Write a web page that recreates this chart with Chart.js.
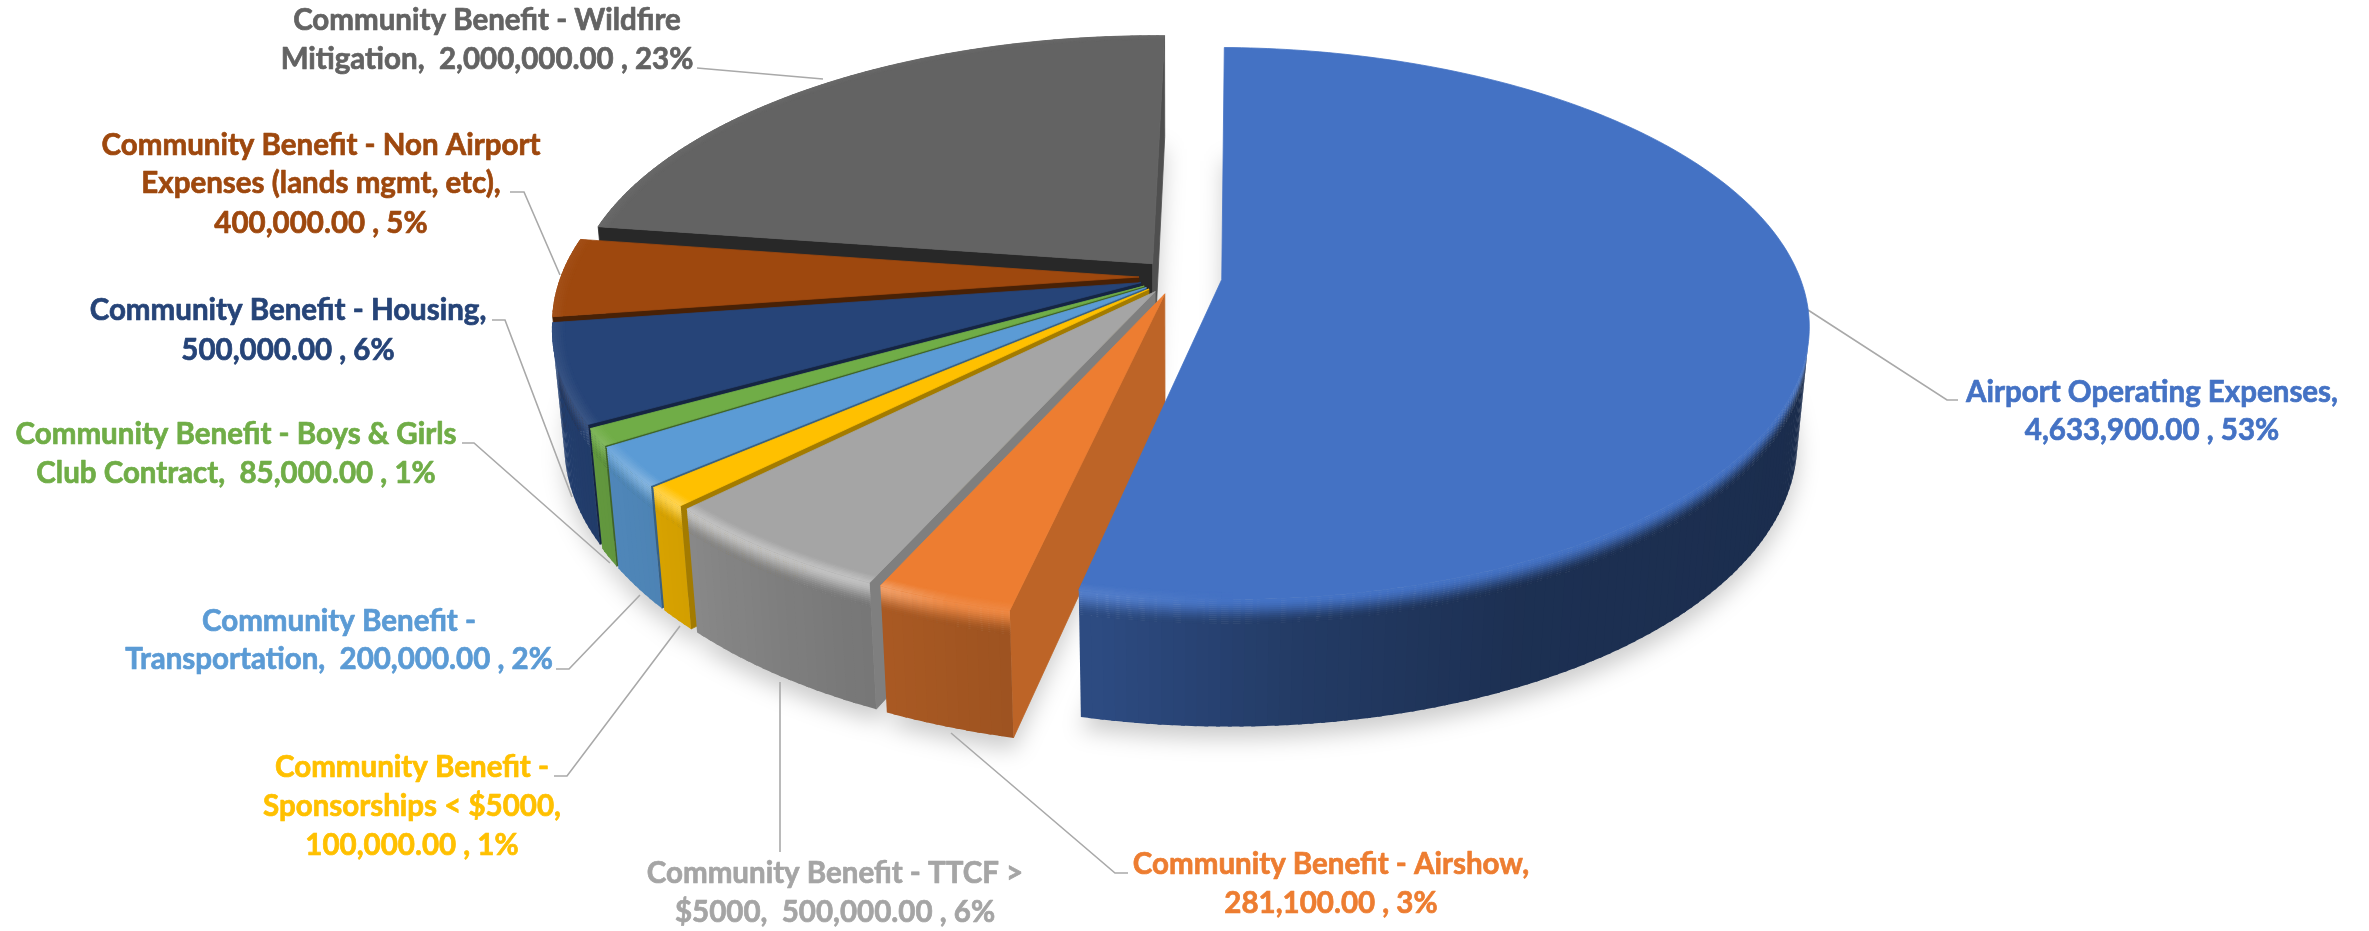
<!DOCTYPE html>
<html>
<head>
<meta charset="utf-8">
<title>Airport budget</title>
<style>
    html, body { margin: 0; padding: 0; background: #ffffff; }
    canvas { display: block; }
</style>
<script src="https://cdn.jsdelivr.net/npm/chart.js@4"></script>
</head>
<body>
<canvas id="budgetPie" width="2369" height="931"></canvas>
<script>
const categories = [
    "Airport Operating Expenses",
    "Community Benefit - Airshow",
    "Community Benefit - TTCF > $5000",
    "Community Benefit - Sponsorships < $5000",
    "Community Benefit - Transportation",
    "Community Benefit - Boys & Girls Club Contract",
    "Community Benefit - Housing",
    "Community Benefit - Non Airport Expenses (lands mgmt, etc)",
    "Community Benefit - Wildfire Mitigation"
];
const amounts = [4633900, 281100, 500000, 100000, 200000, 85000, 500000, 400000, 2000000];
const sliceColors = ["#4472C4", "#ED7D31", "#A5A5A5", "#FFC000", "#5B9BD5", "#70AD47", "#264478", "#9E480E", "#636363"];
const labelLines = [
    ["Airport Operating Expenses,", "4,633,900.00 , 53%"],
    ["Community Benefit - Airshow,", "281,100.00 , 3%"],
    ["Community Benefit - TTCF >", "$5000,  500,000.00 , 6%"],
    ["Community Benefit -", "Sponsorships < $5000,", "100,000.00 , 1%"],
    ["Community Benefit -", "Transportation,  200,000.00 , 2%"],
    ["Community Benefit - Boys & Girls", "Club Contract,  85,000.00 , 1%"],
    ["Community Benefit - Housing,", "500,000.00 , 6%"],
    ["Community Benefit - Non Airport", "Expenses (lands mgmt, etc),", "400,000.00 , 5%"],
    ["Community Benefit - Wildfire", "Mitigation,  2,000,000.00 , 23%"]
];

// ArcElement moves a slice by a quarter of its offset, so 180 is 45px
const sliceOffsets = [180, 152, 152, 152, 152, 152, 152, 152, 152];

// where each label sits: centre x, then the centre y of every line
const labelPlaces = [
    { x: 2152, y: [392, 430] },
    { x: 1331, y: [864, 903] },
    { x: 835, y: [873, 912] },
    { x: 412, y: [767, 806, 845] },
    { x: 339, y: [621, 659] },
    { x: 236, y: [434, 473] },
    { x: 288, y: [310, 350] },
    { x: 321, y: [145, 183, 223] },
    { x: 487, y: [20, 59] }
];
const leaderLines = [
    [[1808, 310], [1947, 400], [1958, 400]],
    [[951, 733], [1115, 873], [1128, 873]],
    [[780, 682], [780, 852]],
    [[680, 626], [567, 776], [554, 776]],
    [[640, 595], [569, 669], [556, 669]],
    [[462, 443], [474, 443], [610, 563]],
    [[492, 320], [505, 320], [572, 497]],
    [[510, 192], [524, 192], [560, 275]],
    [[697, 68], [823, 79]]
];

// camera for the tilted pie
const CAMERA_DIST = 3220;
const SIN_TILT = 0.464;
const COS_TILT = 0.886;
const PIE_DEPTH = 130;
const BEVEL = 24;
const STEP_OVERLAP = 0.006;

// brightness of the outer wall by angle, of the cut walls by the way they face,
// and how much the rim catches the light
const outerWallShade = [[0, 0.38], [65, 0.42], [85, 0.52], [100, 0.65], [115, 0.72], [140, 0.85], [180, 0.95]];
const cutWallShade = [[0, 0.8], [12, 0.8], [24, 0.77], [45, 0.64], [61, 0.55], [83, 0.45], [98, 0.4]];
const rimGlow = [[90, 0], [100, 0.07], [108, 0.1], [116, 0.32], [135, 0.32], [150, 0.1], [180, 0.04]];

function lookup(table, value) {
    if (value <= table[0][0]) return table[0][1];
    for (let i = 1; i < table.length; i++) {
        if (value <= table[i][0]) {
            const [x0, y0] = table[i - 1];
            const [x1, y1] = table[i];
            return y0 + ((value - x0) / (x1 - x0)) * (y1 - y0);
        }
    }
    return table[table.length - 1][1];
}

function toRgb(hex) {
    return [1, 3, 5].map((i) => parseInt(hex.slice(i, i + 2), 16));
}

function mix(a, b, t) {
    return a.map((v, i) => v + (b[i] - v) * t);
}

function scale(rgb, f) {
    return rgb.map((v) => v * f);
}

function css(rgb) {
    return `rgb(${rgb.map((v) => Math.round(v)).join(",")})`;
}

function rimColor(base, deg) {
    return mix(base, [255, 255, 255], lookup(rimGlow, deg));
}

// arc geometry comes from the controller, this only puts it in perspective
function projector(arc) {
    const { x, y, startAngle, endAngle, outerRadius } = arc.getProps(["x", "y", "startAngle", "endAngle", "outerRadius"]);
    const mid = (startAngle + endAngle) / 2;
    const shift = (arc.options.offset || 0) / 4;
    const ox = Math.cos(mid) * shift;
    const oy = Math.sin(mid) * shift;
    const at = (angle, r, z) => {
        const px = ox + r * Math.cos(angle);
        const back = -(oy + r * Math.sin(angle));
        const s = CAMERA_DIST / (CAMERA_DIST + back * COS_TILT - z * SIN_TILT);
        const up = back * SIN_TILT + z * COS_TILT;
        return [x + px * s, y - up * s];
    };
    const steps = Math.max(2, Math.ceil(((endAngle - startAngle) * 180) / Math.PI));
    const angles = [];
    for (let i = 0; i <= steps; i++) {
        angles.push(startAngle + ((endAngle - startAngle) * i) / steps);
    }
    return { at, angles, startAngle, endAngle, outerRadius };
}

function fillPoly(ctx, points, color, seam) {
    ctx.beginPath();
    points.forEach((p, i) => (i ? ctx.lineTo(p[0], p[1]) : ctx.moveTo(p[0], p[1])));
    ctx.closePath();
    ctx.fillStyle = color;
    ctx.fill();
    if (seam) {
        ctx.strokeStyle = color;
        ctx.lineWidth = 0.8;
        ctx.stroke();
    }
}

function polyArea(points) {
    let sum = 0;
    points.forEach((p, i) => {
        const q = points[(i + 1) % points.length];
        sum += p[0] * q[1] - q[0] * p[1];
    });
    return sum;
}

function drawCutWall(ctx, pie, base, angle, isStart) {
    const { at, outerRadius } = pie;
    const quad = [at(angle, 0, 0), at(angle, outerRadius, 0), at(angle, outerRadius, -PIE_DEPTH), at(angle, 0, -PIE_DEPTH)];
    const area = polyArea(quad);
    // the back wall is nearly edge-on, keep it as a thin strip
    const visible = isStart ? area < 0 : area > -4000;
    if (!visible) return;
    let facing = (angle * 180) / Math.PI + (isStart ? -90 : 90);
    facing = ((facing + 180) % 360 + 360) % 360 - 180;
    fillPoly(ctx, quad, css(scale(base, lookup(cutWallShade, facing))), true);
}

// one ring strip of the wall between two heights, overlapped so no gaps show
function wallStrip(ctx, pie, base, zTop, zBottom, colorAt) {
    const { at, angles, outerRadius } = pie;
    for (let i = 0; i < angles.length - 1; i++) {
        const a0 = angles[i];
        const a1 = Math.min(angles[i + 1] + STEP_OVERLAP, angles[angles.length - 1]);
        const column = [at(a0, outerRadius, 0), at(a1, outerRadius, 0), at(a1, outerRadius, -PIE_DEPTH), at(a0, outerRadius, -PIE_DEPTH)];
        if (polyArea(column) >= 0) continue;
        const deg = (((angles[i] + angles[i + 1]) / 2) * 180) / Math.PI;
        fillPoly(ctx, [at(a0, outerRadius, zTop), at(a1, outerRadius, zTop), at(a1, outerRadius, zBottom), at(a0, outerRadius, zBottom)], colorAt(deg), false);
    }
}

function drawOuterWall(ctx, pie, base) {
    const wallRgb = (deg) => scale(base, lookup(outerWallShade, deg));
    wallStrip(ctx, pie, base, -BEVEL, -PIE_DEPTH, (deg) => css(wallRgb(deg)));
    // shallowest strip goes on last so every edge stacks the same way
    for (let z = BEVEL - 2; z >= 0; z -= 2) {
        const t = (z + 1) / BEVEL;
        const blend = t * t * (3 - 2 * t);
        wallStrip(ctx, pie, base, -z, -z - 2.5, (deg) => css(mix(rimColor(base, deg), wallRgb(deg), blend)));
    }
}

function drawTop(ctx, pie, base) {
    const { at, angles, outerRadius } = pie;
    const points = [at(0, 0, 0)].concat(angles.map((a) => at(a, outerRadius, 0)));
    fillPoly(ctx, points, css(base), true);
    // the bevel starts a little inside the edge
    for (let d = 12; d > 0; d -= 2) {
        for (let i = 0; i < angles.length - 1; i++) {
            const a0 = angles[i];
            const a1 = Math.min(angles[i + 1] + STEP_OVERLAP, angles[angles.length - 1]);
            const deg = (((angles[i] + angles[i + 1]) / 2) * 180) / Math.PI;
            if (lookup(rimGlow, deg) === 0) continue;
            fillPoly(ctx, [
                at(a0, outerRadius - d, 0),
                at(a1, outerRadius - d, 0),
                at(a1, outerRadius - d + 2.5, 0),
                at(a0, outerRadius - d + 2.5, 0)
            ], css(mix(rimColor(base, deg), base, (d - 1) / 12)), false);
        }
    }
}

function drawShadows(ctx, pies) {
    const layer = document.createElement("canvas");
    layer.width = ctx.canvas.width;
    layer.height = ctx.canvas.height;
    const lctx = layer.getContext("2d");
    pies.forEach(({ at, angles, outerRadius }) => {
        const points = [at(0, 0, -PIE_DEPTH)].concat(angles.map((a) => at(a, outerRadius, -PIE_DEPTH)));
        fillPoly(lctx, points, "#000000", false);
    });
    ctx.save();
    ctx.filter = "blur(11px)";
    ctx.globalAlpha = 0.2;
    ctx.drawImage(layer, 0, 12);
    ctx.restore();
}

function drawLeaders(ctx) {
    ctx.save();
    ctx.strokeStyle = "#A9A9A9";
    ctx.lineWidth = 1.6;
    leaderLines.forEach((line) => {
        ctx.beginPath();
        line.forEach((p, i) => (i ? ctx.lineTo(p[0], p[1]) : ctx.moveTo(p[0], p[1])));
        ctx.stroke();
    });
    ctx.restore();
}

function drawLabels(ctx) {
    ctx.save();
    ctx.font = "bold 29.5px Lato";
    ctx.textAlign = "center";
    ctx.textBaseline = "middle";
    ctx.lineWidth = 0.7;
    ctx.lineJoin = "round";
    labelLines.forEach((lines, i) => {
        const place = labelPlaces[i];
        ctx.fillStyle = sliceColors[i];
        ctx.strokeStyle = sliceColors[i];
        lines.forEach((text, n) => {
            ctx.fillText(text, place.x, place.y[n]);
            ctx.strokeText(text, place.x, place.y[n]);
        });
    });
    ctx.restore();
}

const pie3d = {
    id: "pie3d",
    beforeDatasetDraw(chart, args) {
        const ctx = chart.ctx;
        const arcs = args.meta.data;
        const pies = arcs.map(projector);
        drawShadows(ctx, pies);
        drawLeaders(ctx);
        // back slices first, the dataset runs from the front round to the back
        for (let i = arcs.length - 1; i >= 0; i--) {
            const base = toRgb(sliceColors[i]);
            drawCutWall(ctx, pies[i], base, pies[i].startAngle, true);
            drawCutWall(ctx, pies[i], base, pies[i].endAngle, false);
            drawOuterWall(ctx, pies[i], base);
            drawTop(ctx, pies[i], base);
        }
        drawLabels(ctx);
        return false;
    }
};

new Chart(document.getElementById("budgetPie"), {
    type: "pie",
    data: {
        labels: categories,
        datasets: [
            {
                data: amounts,
                backgroundColor: sliceColors,
                offset: sliceOffsets,
                borderWidth: 0
            }
        ]
    },
    options: {
        responsive: false,
        animation: false,
        rotation: 1,
        radius: 578,
        layout: { padding: { right: 15, bottom: 377 } },
        plugins: {
            legend: { display: false },
            tooltip: { enabled: false }
        }
    },
    plugins: [pie3d]
});
</script>
</body>
</html>
